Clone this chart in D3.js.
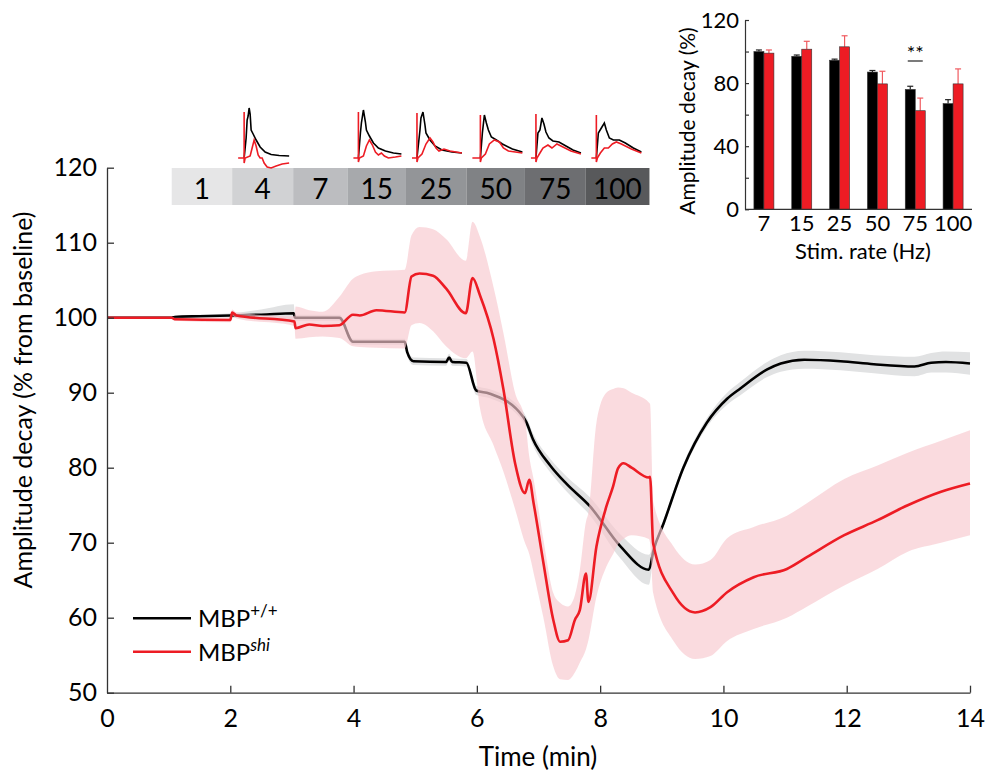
<!DOCTYPE html>
<html>
<head>
<meta charset="utf-8">
<script src="https://cdn.jsdelivr.net/npm/d3@7"></script>
<style>
body{margin:0;background:#fff}
text{font-family:Lato,"Open Sans",sans-serif;fill:#000}
</style>
</head>
<body>
<script>
// stimulation protocol
const rates = ["1","4","7","15","25","50","75","100"];
const rateEdges = [1.05, 2.03, 3.02, 3.9, 4.85, 5.83, 6.78, 7.76, 8.8];
const rateShades = ["#e6e6e7","#d1d2d4","#bcbdc0","#a7a9ac","#939598","#808285","#6d6e71","#58595b"];

// MBP+/+ : time, mean, half width of band
const wtT    = [0,1.05,1.1,1.5,2.0,2.5,3.03,3.05,3.77,3.99,4.83,4.87,4.97,5.5,5.55,5.6,5.83,5.99,6.2,6.75,6.8,6.91,7.19,7.46,7.83,8.33,8.79,8.87,9.03,9.35,9.73,10.06,10.28,10.71,10.93,11.31,11.9,12.44,13.1,13.37,13.61,14];
const wtMean = [100,100,100.1,100.2,100.3,100.4,100.6,100.0,100.0,96.8,96.8,95.4,94.2,94.1,94.7,94.1,94.0,90.3,89.9,86.8,86.1,83.8,80.3,77.8,74.9,69.5,66.4,69.1,72.6,80.0,86.0,89.2,90.6,93.1,93.9,94.4,94.2,93.8,93.5,94.0,94.1,93.9];
const wtSem  = [0.1,0.1,0.2,0.2,0.3,0.7,1.2,0.4,0.4,0.4,0.4,0.5,0.5,0.5,0.5,0.5,0.5,0.6,0.6,0.7,0.7,0.8,0.9,1.0,1.2,1.6,2.0,0.6,0.5,0.5,0.6,0.8,0.9,1.0,1.1,1.2,1.2,1.2,1.3,1.3,1.4,1.5];

// MBPshi : time, mean, lower and upper edge of band
const shiT    = [0,1.05,1.1,2.0,2.03,2.1,3.04,3.06,3.28,3.5,3.77,3.99,4.1,4.37,4.83,4.94,5.07,5.29,5.5,5.82,5.93,6.05,6.27,6.43,6.62,6.78,6.85,6.92,7.08,7.24,7.35,7.48,7.59,7.67,7.77,7.81,7.94,8.1,8.21,8.29,8.38,8.51,8.79,8.81,8.86,9.19,9.54,9.79,10.06,10.49,11.03,11.36,11.96,12.5,12.99,13.53,14];
const shiMean = [100,100,99.8,99.7,100.7,100.3,99.5,98.6,99.1,98.9,99.0,100.4,100.3,101.0,100.7,105.5,105.9,105.6,103.9,100.6,105.3,103.0,97.2,90.5,80.6,76.6,78.4,75.3,67.3,59.7,56.8,57.0,59.7,61.0,65.9,62.1,69.5,74.8,77.5,79.9,80.6,80.0,78.7,78.8,69.9,63.2,60.7,61.4,63.4,65.4,66.5,68.1,71.0,73.0,75.0,76.8,77.9];
const shiLo   = [99.9,99.9,99.6,99.4,100.3,99.9,98.9,97.2,97.4,97.5,97.3,96.2,96.1,96.0,95.9,99.0,99.3,98.2,96.2,94.6,95.5,88.0,83.0,79.5,74.5,70.0,68.5,66.0,60.0,53.5,51.8,51.7,52.7,54.0,55.8,57.0,62.8,66.8,68.5,69.8,70.5,71.0,70.5,70.0,63.3,56.9,54.5,54.9,56.9,58.5,60.0,61.5,64.3,66.5,68.8,70.0,71.0];
const shiHi   = [100.1,100.1,100.0,100.0,101.1,100.7,100.2,101.5,101.0,100.8,102.8,105.2,105.7,106.2,106.4,111.0,112.1,111.8,110.5,107.6,112.8,110.8,104.1,98.0,90.0,86.5,81.5,78.5,70.4,63.3,62.0,61.5,63.0,66.3,72.8,74.0,86.0,90.0,90.5,90.7,90.6,90.0,88.7,88.5,75.5,69.5,67.1,67.7,70.6,72.1,73.6,75.3,78.5,80.3,82.0,83.6,85.0];

const xTicks = [0,2,4,6,8,10,12,14];
const yTicks = [50,60,70,80,90,100,110,120];

// inset: amplitude decay per stimulation rate
const inRates = ["7","15","25","50","75","100"];
const wtBar  = [100, 97, 94.5, 87, 76, 67];
const wtErr  = [1, 0.8, 0.7, 1, 2, 2.5];
const shiBar = [99, 101.5, 103, 79.5, 62.5, 79.5];
const shiErr = [2, 5, 7, 8, 8, 9.5];
const inTicks = [0,20,40,60,80,100,120];

// example sweeps above the protocol bar (ms, amplitude), keyed by rate index
const sweepRate = [1,3,4,5,6,7];
const sweepBlack = [
  [[6,0],[8,20],[9,38],[10,42],[11,50],[12,44],[13,28],[15,24],[18,18],[22,11],[27,6],[33,3.5],[41,2.5],[51,2]],
  [[5,0],[7,25],[8,35],[10,48],[12,36],[13,28],[16,22],[20,15],[25,10],[32,7],[40,5],[48,4]],
  [[5,0],[8,28],[9,40],[11,46],[13,33],[14,25],[18,18],[23,12],[30,8],[40,6],[50,5]],
  [[8,0],[10,25],[12,43],[14,35],[16,28],[19,21],[24,18],[30,14],[40,9],[50,6]],
  [[5,0],[7,25],[9,28],[11,40],[13,34],[15,26],[18,20],[22,17],[28,16],[35,12],[42,8],[50,5]],
  [[5,0],[7,25],[10,30],[13,35],[15,28],[18,20],[22,18],[28,18],[34,15],[42,10],[50,6]]
];
const sweepRed = [
  [[0,0],[6,0],[6,46],[6,-5],[7,0],[12,2],[14,10],[16,18],[18,12],[20,3],[22,0],[24,0],[26,-5],[29,-9],[33,-10],[38,-8],[44,-6],[51,-5]],
  [[0,0],[5,0],[5,46],[5,-4],[6,0],[10,2],[13,12],[16,18],[19,13],[22,6],[25,3],[28,5],[31,2],[35,0],[42,1],[48,2]],
  [[0,0],[5,0],[5,45],[5,-4],[6,0],[10,4],[14,14],[18,20],[21,16],[24,10],[27,7],[32,9],[38,7],[50,5]],
  [[0,0],[8,0],[8,43],[8,-4],[9,0],[13,4],[17,14],[22,18],[27,16],[31,10],[36,7],[43,6],[50,5]],
  [[0,0],[5,0],[5,44],[5,-4],[6,0],[9,5],[12,10],[17,13],[21,10],[26,14],[32,11],[40,7],[50,4]],
  [[0,0],[5,0],[5,43],[5,-4],[6,0],[9,5],[13,10],[17,10],[21,14],[25,16],[30,14],[40,9],[50,5]]
];

const red = "#ed1c24";

const svg = d3.select("body").append("svg").attr("width",987).attr("height",776);

const x = d3.scaleLinear().domain([0,14]).range([107,970]);
const y = d3.scaleLinear().domain([50,120]).range([692.7,167.7]);

// bands and lines
const wt = wtT.map((t,i)=>({t:t, m:wtMean[i], lo:wtMean[i]-wtSem[i], hi:wtMean[i]+wtSem[i]}));
const shi = shiT.map((t,i)=>({t:t, m:shiMean[i], lo:shiLo[i], hi:shiHi[i]}));

const area = d3.area().x(d=>x(d.t)).y0(d=>y(d.lo)).y1(d=>y(d.hi)).curve(d3.curveMonotoneX);
const line = d3.line().x(d=>x(d.t)).y(d=>y(d.m)).curve(d3.curveMonotoneX);

svg.append("path").datum(wt).attr("d",area).attr("fill","#e1e2e3");
svg.append("path").datum(wt).attr("d",line).attr("fill","none").attr("stroke","#000").attr("stroke-width",2.6);
svg.append("path").datum(shi).attr("d",area).attr("fill","rgb(248,200,206)").attr("fill-opacity",0.65);
svg.append("path").datum(shi).attr("d",line).attr("fill","none").attr("stroke",red).attr("stroke-width",2.6);

// axes
const yAxis = svg.append("g").attr("transform","translate(107,0)")
  .call(d3.axisLeft(y).tickValues(yTicks).tickSizeInner(-7).tickSizeOuter(0).tickPadding(10));
const xAxis = svg.append("g").attr("transform","translate(0,692.7)")
  .call(d3.axisBottom(x).tickValues(xTicks).tickSizeInner(-7).tickSizeOuter(0).tickPadding(17));
[yAxis,xAxis].forEach(a=>{
  a.selectAll("path,line").attr("stroke","#333").attr("stroke-width",1.3);
  a.selectAll("text").attr("font-size",25).attr("font-family","Lato");
});
xAxis.selectAll(".tick").filter(d=>d===0).select("line").remove();

svg.append("text").attr("transform","translate(32,400) rotate(-90)")
  .attr("text-anchor","middle").attr("font-size",25).text("Amplitude decay (% from baseline)");
svg.append("text").attr("x",538).attr("y",766)
  .attr("text-anchor","middle").attr("font-size",26).text("Time (min)");

// protocol bar
const seg = svg.selectAll("g.seg").data(rates).enter().append("g").attr("class","seg");
seg.append("rect")
  .attr("x",(d,i)=>x(rateEdges[i]))
  .attr("width",(d,i)=>x(rateEdges[i+1])-x(rateEdges[i]))
  .attr("y",168).attr("height",37)
  .attr("fill",(d,i)=>rateShades[i]);
seg.append("text")
  .attr("x",(d,i)=>(x(rateEdges[i])+x(rateEdges[i+1]))/2)
  .attr("y",199).attr("text-anchor","middle").attr("font-size",28)
  .text(d=>d);

// sweeps
sweepRate.forEach((r,k)=>{
  const x0 = x(rateEdges[r]) + 6;
  const sx = d3.scaleLinear().domain([0,50]).range([x0, x0+50]);
  const sy = d3.scaleLinear().domain([0,50]).range([158,108]);
  const sl = d3.line().x(d=>sx(d[0])).y(d=>sy(d[1]));
  const g = svg.append("g");
  g.append("path").attr("d",sl(sweepBlack[k])).attr("fill","none").attr("stroke","#000").attr("stroke-width",1.6);
  g.append("path").attr("d",sl(sweepRed[k])).attr("fill","none").attr("stroke",red).attr("stroke-width",1.6);
});

// legend
const leg = svg.append("g");
[["#000","+/+","normal"],[red,"shi","italic"]].forEach((l,i)=>{
  const ly = 618.3 + i*33.4;
  leg.append("line").attr("x1",133).attr("x2",191).attr("y1",ly).attr("y2",ly)
    .attr("stroke",l[0]).attr("stroke-width",2.6);
  const t = leg.append("text").attr("x",198).attr("y",ly+9).attr("font-size",24);
  t.append("tspan").text("MBP");
  t.append("tspan").attr("dy",-10).attr("font-size",17).attr("font-style",l[2]).text(l[1]);
});

// inset bar chart
const bx = d3.scaleBand().domain(inRates).range([745,972]);
const by = d3.scaleLinear().domain([0,120]).range([209.3,20]);
const bw = 10;

const bars = svg.selectAll("g.bar").data(inRates).enter().append("g").attr("class","bar");
bars.append("line")
  .attr("x1",(d,i)=>bx(d)+bx.bandwidth()/2-bw/2).attr("x2",(d,i)=>bx(d)+bx.bandwidth()/2-bw/2)
  .attr("y1",(d,i)=>by(wtBar[i])).attr("y2",(d,i)=>by(wtBar[i]+wtErr[i]))
  .attr("stroke","#222").attr("stroke-width",1.2);
bars.append("line")
  .attr("x1",(d,i)=>bx(d)+bx.bandwidth()/2-bw/2-3).attr("x2",(d,i)=>bx(d)+bx.bandwidth()/2-bw/2+3)
  .attr("y1",(d,i)=>by(wtBar[i]+wtErr[i])).attr("y2",(d,i)=>by(wtBar[i]+wtErr[i]))
  .attr("stroke","#222").attr("stroke-width",1.2);
bars.append("line")
  .attr("x1",(d,i)=>bx(d)+bx.bandwidth()/2+bw/2).attr("x2",(d,i)=>bx(d)+bx.bandwidth()/2+bw/2)
  .attr("y1",(d,i)=>by(shiBar[i])).attr("y2",(d,i)=>by(shiBar[i]+shiErr[i]))
  .attr("stroke","#f05a5f").attr("stroke-width",1.2);
bars.append("line")
  .attr("x1",(d,i)=>bx(d)+bx.bandwidth()/2+bw/2-3).attr("x2",(d,i)=>bx(d)+bx.bandwidth()/2+bw/2+3)
  .attr("y1",(d,i)=>by(shiBar[i]+shiErr[i])).attr("y2",(d,i)=>by(shiBar[i]+shiErr[i]))
  .attr("stroke","#f05a5f").attr("stroke-width",1.2);
bars.append("rect")
  .attr("x",d=>bx(d)+bx.bandwidth()/2-bw).attr("width",bw)
  .attr("y",(d,i)=>by(wtBar[i])).attr("height",(d,i)=>by(0)-by(wtBar[i]))
  .attr("fill","#000").attr("stroke","#333").attr("stroke-width",0.6);
bars.append("rect")
  .attr("x",d=>bx(d)+bx.bandwidth()/2).attr("width",bw)
  .attr("y",(d,i)=>by(shiBar[i])).attr("height",(d,i)=>by(0)-by(shiBar[i]))
  .attr("fill",red).attr("stroke","#333").attr("stroke-width",0.6);
bars.append("text")
  .attr("x",d=>bx(d)+bx.bandwidth()/2).attr("y",231)
  .attr("text-anchor","middle").attr("font-size",22).text(d=>d);

const inAxis = svg.append("g").attr("transform","translate(745,0)")
  .call(d3.axisLeft(by).tickValues(inTicks).tickSizeInner(-4).tickSizeOuter(0).tickPadding(6)
    .tickFormat(d=>d%40===0?d:""));
inAxis.selectAll("path,line").attr("stroke","#333").attr("stroke-width",1.2);
inAxis.selectAll("text").attr("font-size",22).attr("font-family","Lato");
svg.append("line").attr("x1",745).attr("x2",972).attr("y1",by(0)).attr("y2",by(0))
  .attr("stroke","#333").attr("stroke-width",1.2);

// significance mark over 75 Hz
const sigX = bx("75")+bx.bandwidth()/2;
svg.append("line").attr("x1",sigX-7.5).attr("x2",sigX+7.5).attr("y1",61).attr("y2",61)
  .attr("stroke","#333").attr("stroke-width",1.3);
svg.append("text").attr("x",sigX).attr("y",60).attr("text-anchor","middle").attr("font-size",20).text("**");

svg.append("text").attr("transform","translate(695,121) rotate(-90)")
  .attr("text-anchor","middle").attr("font-size",21).text("Amplitude decay (%)");
svg.append("text").attr("x",863).attr("y",259)
  .attr("text-anchor","middle").attr("font-size",22).text("Stim. rate (Hz)");
</script>
</body>
</html>
